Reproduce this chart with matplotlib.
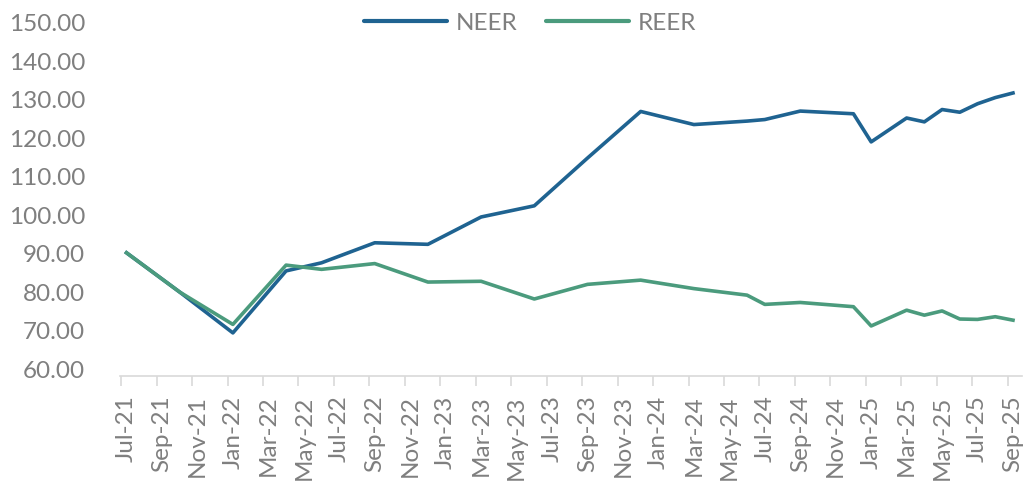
import numpy as np
import pandas as pd
import matplotlib
matplotlib.use('Agg')
import matplotlib.pyplot as plt

months = ['2021-07', '2021-10', '2022-01', '2022-04', '2022-06', '2022-09',
          '2022-12', '2023-03', '2023-06', '2023-09', '2023-12', '2024-03',
          '2024-06', '2024-07', '2024-09', '2024-12', '2025-01', '2025-03',
          '2025-04', '2025-05', '2025-06', '2025-07', '2025-08', '2025-09']
neer = [90.2, 80.0, 69.4, 85.5, 87.6, 92.8, 92.4, 99.5, 102.4, 114.8, 126.9, 123.5,
        124.4, 124.8, 127.0, 126.3, 119.0, 125.2, 124.2, 127.4, 126.7, 128.9, 130.5, 131.7]
reer = [90.2, 80.0, 71.6, 87.0, 85.9, 87.4, 82.6, 82.8, 78.2, 82.0, 83.1, 80.9,
        79.2, 76.8, 77.3, 76.2, 71.2, 75.3, 74.0, 75.1, 73.0, 72.9, 73.6, 72.7]

tick_dates = pd.date_range('2021-07-01', '2025-09-01', freq='2MS')
tick_labels = [d.strftime('%b-%y') for d in tick_dates]

plt.rcParams['font.family'] = ['Lato', 'DejaVu Sans']
grey = '#7f7f7f'

# month index from Jul-21
start = pd.Period('2021-07', 'M')
x = np.array([(pd.Period(m, 'M') - start).n for m in months])
tick_pos = np.array([(pd.Period(d, 'M') - start).n for d in tick_dates])

fig = plt.figure(figsize=(10.27, 4.84), dpi=100)
ax = fig.add_axes([0.1168, 0.2231, 0.995 - 0.1168, 0.9535 - 0.2231])

ax.plot(x, neer, color='#1f6391', lw=2.6, label='NEER', solid_joinstyle='round')
ax.plot(x, reer, color='#4b9b7d', lw=2.6, label='REER', solid_joinstyle='round')

ax.set_ylim(58.2, 150)
ax.set_xlim(-0.37, 50.5)
ax.set_yticks(np.arange(60, 151, 10))
ax.set_yticklabels([f'{v:.2f}' for v in np.arange(60, 151, 10)])

ax.set_xticks(tick_pos)
ax.set_xticklabels(tick_labels, rotation=90)
ax.set_xticks(tick_pos - 0.3, minor=True)
ax.tick_params(axis='x', which='major', length=0, pad=14, labelsize=17.5, labelcolor=grey)
ax.tick_params(axis='x', which='minor', length=7, color='#d9d9d9', width=1.2)
ax.tick_params(axis='y', length=0, pad=25, labelsize=17.5, labelcolor=grey)

for s in ['top', 'right', 'left']:
    ax.spines[s].set_visible(False)
ax.spines['bottom'].set_color('#d9d9d9')
ax.spines['bottom'].set_linewidth(1.2)

leg = fig.legend(loc='center', bbox_to_anchor=(530 / 1027, 0.952), ncol=2, frameon=False,
                 fontsize=17.5, handlelength=3.4, handletextpad=0.35, columnspacing=1.2)
for t in leg.get_texts():
    t.set_color(grey)
for h in leg.get_lines():
    h.set_linewidth(3)
    h.set_solid_capstyle('round')

fig.savefig('out.png', dpi=100)
